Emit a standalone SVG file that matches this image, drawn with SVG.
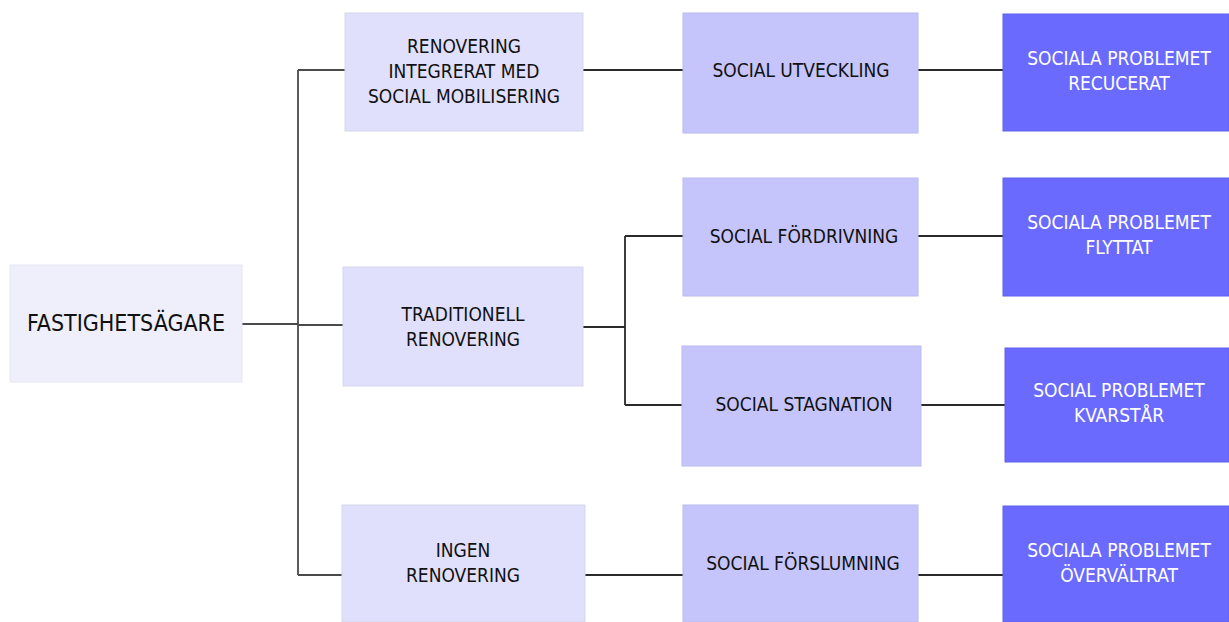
<svg xmlns="http://www.w3.org/2000/svg" width="1229" height="622" viewBox="0 0 1229 622">
<style>
.t{font-family:"Liberation Sans Narrow","DejaVu Sans Condensed","Liberation Sans",sans-serif;font-size:19px;text-anchor:middle;dominant-baseline:central;fill:#111}
.w{fill:#fff}
.c1{fill:#efeffb;stroke:#e6e6f3;stroke-width:1}
.c2{fill:#e0e0fc;stroke:#d6d6f0;stroke-width:1}
.c3{fill:#c5c5fb;stroke:#babaf0;stroke-width:1}
.c4{fill:#6a6aff;stroke:#6060ee;stroke-width:1}
.ln{fill:none;stroke:#2a2a2a;stroke-width:1.8}
</style>
<rect width="1229" height="622" fill="#fff"/>
<g id="connectors">
<path class="ln" d="M242 324H298M298 70V575M298 70H345M298 325H343M298 575H342" stroke-opacity="0.85"/>
<path class="ln" d="M583 70H683M918 70H1003"/>
<path class="ln" d="M583 327H625M625 236V405M625 236H683M625 405H683M918 236H1003M918 405H1005"/>
<path class="ln" d="M585 575H683M918 575H1003"/>
</g>
<g id="n-fastighetsagare"><rect class="c1" x="10" y="265" width="232" height="117"/><text class="t" x="126" y="323" style="font-size:23px">FASTIGHETSÄGARE</text></g>
<g id="n-renovering-integrerat"><rect class="c2" x="345" y="13" width="238" height="118"/><text class="t" x="464" y="46">RENOVERING</text><text class="t" x="464" y="71">INTEGRERAT MED</text><text class="t" x="464" y="96">SOCIAL MOBILISERING</text></g>
<g id="n-traditionell"><rect class="c2" x="343" y="267" width="240" height="119"/><text class="t" x="463" y="314">TRADITIONELL</text><text class="t" x="463" y="339">RENOVERING</text></g>
<g id="n-ingen"><rect class="c2" x="342" y="505" width="243" height="117"/><text class="t" x="463" y="550">INGEN</text><text class="t" x="463" y="575">RENOVERING</text></g>
<g id="n-utveckling"><rect class="c3" x="683" y="13" width="235" height="120"/><text class="t" x="801" y="70">SOCIAL UTVECKLING</text></g>
<g id="n-fordrivning"><rect class="c3" x="683" y="178" width="235" height="118"/><text class="t" x="804" y="236">SOCIAL FÖRDRIVNING</text></g>
<g id="n-stagnation"><rect class="c3" x="682" y="346" width="239" height="120"/><text class="t" x="804" y="404">SOCIAL STAGNATION</text></g>
<g id="n-forslumning"><rect class="c3" x="683" y="505" width="235" height="117"/><text class="t" x="803" y="563">SOCIAL FÖRSLUMNING</text></g>
<g id="n-reducerat"><rect class="c4" x="1003" y="14" width="226" height="117"/><text class="t w" x="1119" y="58">SOCIALA PROBLEMET</text><text class="t w" x="1119" y="83">RECUCERAT</text></g>
<g id="n-flyttat"><rect class="c4" x="1003" y="178" width="226" height="118"/><text class="t w" x="1119" y="222">SOCIALA PROBLEMET</text><text class="t w" x="1119" y="247">FLYTTAT</text></g>
<g id="n-kvarstar"><rect class="c4" x="1005" y="348" width="224" height="114"/><text class="t w" x="1119" y="390">SOCIAL PROBLEMET</text><text class="t w" x="1119" y="415">KVARSTÅR</text></g>
<g id="n-overvaltrat"><rect class="c4" x="1003" y="506" width="226" height="116"/><text class="t w" x="1119" y="550">SOCIALA PROBLEMET</text><text class="t w" x="1119" y="575">ÖVERVÄLTRAT</text></g>
</svg>
